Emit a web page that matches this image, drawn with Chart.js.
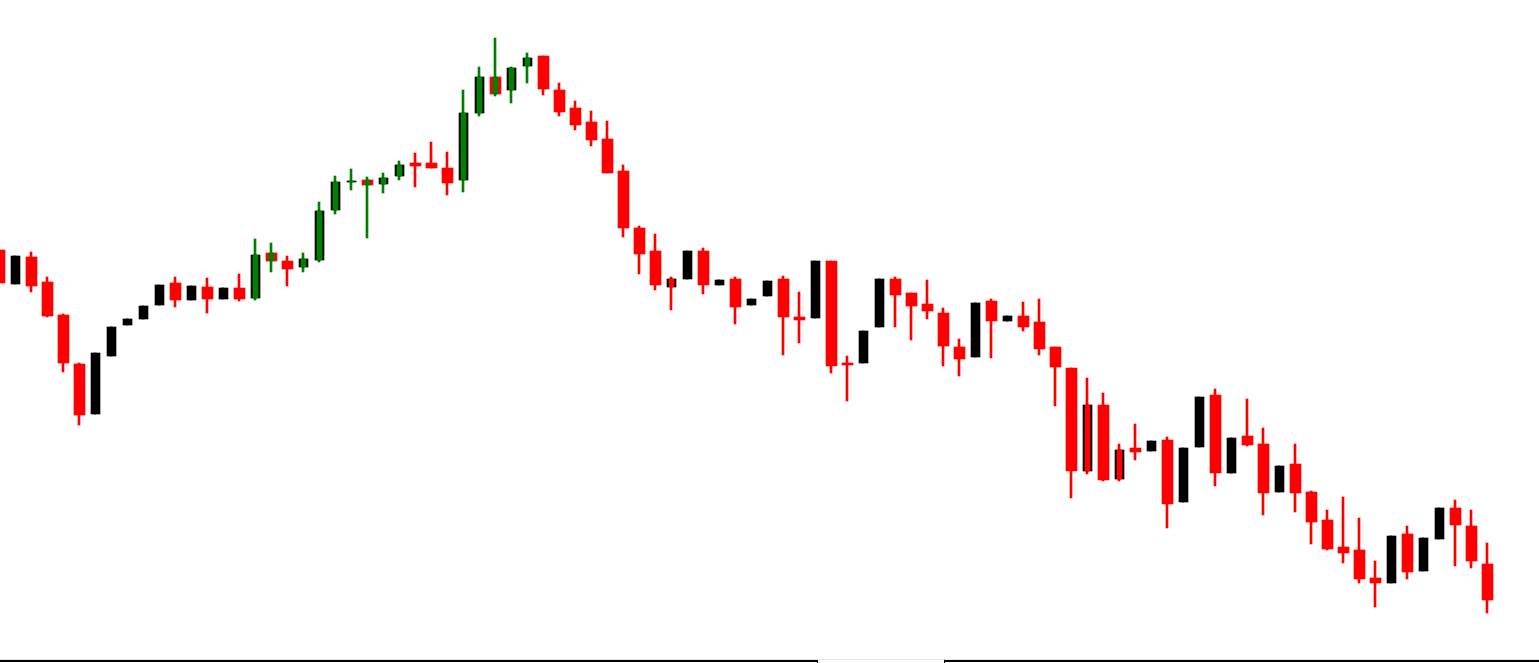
<!DOCTYPE html>
<html>
<head>
<meta charset="utf-8">
<title>Candles</title>
<script src="https://cdn.jsdelivr.net/npm/chart.js@4.4.1/dist/chart.umd.min.js"></script>
<style>
  html, body { margin: 0; padding: 0; background: #fff; overflow: hidden; }
  #wrap { position: relative; width: 1539px; height: 663px; }
  #priceChart { display: block; }
  .rule { position: absolute; left: 0; top: 659px; width: 1539px; height: 1px; background: #e4e4e4; }
  .panel { position: absolute; top: 660px; height: 10px; border-top: 2px solid #000; box-sizing: border-box; }
  .panel.left { left: 0; width: 818px; border-right: 1px solid #000; }
  .panel.right { left: 944px; width: 595px; border-left: 1px solid #000; }
</style>
</head>
<body>
<div id="wrap">
  <canvas id="priceChart" width="1539" height="663"></canvas>
  <div class="rule"></div>
  <div class="panel left"></div>
  <div class="panel right"></div>
</div>
<script>
'use strict';

// ── OHLC data (one entry per bar, oldest first) ──────────
const opens = [
  1.0750, 1.0716, 1.0743, 1.0718, 1.0685, 1.0636, 1.0586, 1.0644, 1.0675, 1.0681,
  1.0695, 1.0717, 1.0700, 1.0713, 1.0701, 1.0712, 1.0702, 1.0747, 1.0739, 1.0733,
  1.0740, 1.0790, 1.0818, 1.0820, 1.0816, 1.0824, 1.0837, 1.0837, 1.0832, 1.0820,
  1.0887, 1.0923, 1.0910, 1.0934, 1.0944, 1.0910, 1.0892, 1.0878, 1.0861, 1.0829,
  1.0772, 1.0749, 1.0713, 1.0721, 1.0749, 1.0715, 1.0721, 1.0695, 1.0704, 1.0721,
  1.0683, 1.0682, 1.0739, 1.0637, 1.0637, 1.0673, 1.0721, 1.0707, 1.0696, 1.0687,
  1.0653, 1.0643, 1.0699, 1.0679, 1.0684, 1.0678, 1.0653, 1.0632, 1.0529, 1.0595,
  1.0521, 1.0552, 1.0549, 1.0560, 1.0498, 1.0553, 1.0605, 1.0527, 1.0564, 1.0556,
  1.0508, 1.0536, 1.0508, 1.0480, 1.0453, 1.0450, 1.0422, 1.0417, 1.0466, 1.0429,
  1.0461, 1.0492, 1.0474, 1.0436
];
const highs = [
  1.0750, 1.0744, 1.0748, 1.0723, 1.0686, 1.0637, 1.0647, 1.0673, 1.0681, 1.0694,
  1.0715, 1.0723, 1.0714, 1.0722, 1.0712, 1.0726, 1.0761, 1.0757, 1.0744, 1.0747,
  1.0798, 1.0824, 1.0831, 1.0823, 1.0827, 1.0839, 1.0847, 1.0858, 1.0848, 1.0910,
  1.0933, 1.0962, 1.0933, 1.0947, 1.0944, 1.0917, 1.0899, 1.0889, 1.0879, 1.0835,
  1.0774, 1.0766, 1.0723, 1.0749, 1.0752, 1.0720, 1.0723, 1.0701, 1.0719, 1.0724,
  1.0708, 1.0739, 1.0739, 1.0644, 1.0669, 1.0721, 1.0723, 1.0707, 1.0720, 1.0692,
  1.0661, 1.0697, 1.0701, 1.0684, 1.0698, 1.0701, 1.0653, 1.0632, 1.0622, 1.0607,
  1.0556, 1.0576, 1.0559, 1.0563, 1.0552, 1.0603, 1.0611, 1.0562, 1.0601, 1.0572,
  1.0534, 1.0556, 1.0509, 1.0490, 1.0503, 1.0482, 1.0439, 1.0464, 1.0474, 1.0462,
  1.0492, 1.0500, 1.0490, 1.0457
];
const lows = [
  1.0717, 1.0716, 1.0708, 1.0683, 1.0628, 1.0575, 1.0586, 1.0644, 1.0675, 1.0681,
  1.0695, 1.0693, 1.0700, 1.0687, 1.0701, 1.0699, 1.0700, 1.0728, 1.0714, 1.0728,
  1.0738, 1.0786, 1.0810, 1.0762, 1.0807, 1.0820, 1.0813, 1.0832, 1.0805, 1.0808,
  1.0884, 1.0904, 1.0897, 1.0917, 1.0905, 1.0884, 1.0870, 1.0854, 1.0827, 1.0763,
  1.0726, 1.0710, 1.0690, 1.0721, 1.0706, 1.0715, 1.0676, 1.0695, 1.0704, 1.0645,
  1.0657, 1.0682, 1.0627, 1.0599, 1.0637, 1.0673, 1.0673, 1.0660, 1.0681, 1.0634,
  1.0624, 1.0643, 1.0642, 1.0679, 1.0669, 1.0645, 1.0594, 1.0502, 1.0526, 1.0519,
  1.0519, 1.0540, 1.0549, 1.0472, 1.0498, 1.0553, 1.0514, 1.0527, 1.0554, 1.0485,
  1.0508, 1.0488, 1.0456, 1.0450, 1.0437, 1.0417, 1.0393, 1.0417, 1.0421, 1.0429,
  1.0461, 1.0434, 1.0432, 1.0387
];
const closes = [
  1.0717, 1.0744, 1.0714, 1.0684, 1.0637, 1.0585, 1.0647, 1.0673, 1.0681, 1.0694,
  1.0715, 1.0700, 1.0714, 1.0701, 1.0712, 1.0701, 1.0745, 1.0739, 1.0731, 1.0741,
  1.0789, 1.0818, 1.0819, 1.0815, 1.0822, 1.0835, 1.0834, 1.0832, 1.0817, 1.0887,
  1.0923, 1.0906, 1.0932, 1.0942, 1.0911, 1.0888, 1.0875, 1.0860, 1.0827, 1.0772,
  1.0746, 1.0715, 1.0721, 1.0749, 1.0715, 1.0720, 1.0693, 1.0701, 1.0719, 1.0683,
  1.0680, 1.0739, 1.0634, 1.0635, 1.0669, 1.0721, 1.0705, 1.0694, 1.0689, 1.0654,
  1.0641, 1.0697, 1.0679, 1.0684, 1.0673, 1.0651, 1.0633, 1.0529, 1.0595, 1.0520,
  1.0550, 1.0548, 1.0559, 1.0496, 1.0552, 1.0603, 1.0527, 1.0562, 1.0555, 1.0507,
  1.0534, 1.0507, 1.0478, 1.0451, 1.0447, 1.0421, 1.0417, 1.0464, 1.0428, 1.0462,
  1.0492, 1.0475, 1.0439, 1.0400
];

// bars carrying an overlay signal candle
const bullSignalIdx = [16, 17, 19, 20, 21, 22, 23, 24, 25, 29, 30, 31, 32, 33];
const bearSignalIdx = [42, 68, 70];

// ── look ─────────────────────────────────────────────────
const UP_COL    = '#000000';
const DOWN_COL  = '#ff0000';
const BULL_COL  = '#008000';
const BEAR_COL  = '#ff0000';
const SLOT_PX   = 16;     // distance between bars
const FIRST_PX  = -0.5;   // centre of the first (cut-off) bar
const WIDTH_PX  = 1539;

const signalOf = i => bullSignalIdx.includes(i) ? BULL_COL : bearSignalIdx.includes(i) ? BEAR_COL : null;
const isUp = i => closes[i] >= opens[i];

const wickPts = [], wickCols = [];
const upBodies = [], downBodies = [];
const sigBodies = [], sigCols = [];
const wickShift = -0.5 / SLOT_PX;   // wicks sit half a pixel left of the body centre

opens.forEach((o, i) => {
    const c = closes[i];
    const sig = signalOf(i);
    wickPts.push({ x: i + wickShift, y: [lows[i], highs[i]] });
    wickCols.push(sig || (isUp(i) ? UP_COL : DOWN_COL));
    if (isUp(i)) upBodies.push({ x: i, y: [o, c] });
    else downBodies.push({ x: i, y: [o, c] });
    if (sig) {
        sigBodies.push({ x: i, y: [o, c] });
        sigCols.push(sig);
    }
});

const xMin = -FIRST_PX / SLOT_PX;
const xMax = xMin + WIDTH_PX / SLOT_PX;

const common = { grouped: false, borderWidth: 0, borderSkipped: false };

new Chart(document.getElementById('priceChart').getContext('2d'), {
    type: 'bar',
    data: {
        datasets: [
            { ...common, label: 'signal', data: sigBodies, backgroundColor: sigCols, barThickness: 5, order: 0 },
            { ...common, label: 'up', data: upBodies, backgroundColor: UP_COL, barThickness: 9, order: 1 },
            { ...common, label: 'down', data: downBodies, backgroundColor: DOWN_COL, barThickness: 11, order: 2 },
            { ...common, label: 'wick', data: wickPts, backgroundColor: wickCols, barThickness: 2, order: 3 },
        ]
    },
    options: {
        responsive: false,
        animation: false,
        layout: { padding: 0 },
        plugins: { legend: { display: false }, tooltip: { enabled: false } },
        scales: {
            x: { type: 'linear', display: false, min: xMin, max: xMax, offset: false },
            y: { type: 'linear', display: false, min: 1.0337, max: 1.1000 }
        }
    }
});
</script>
</body>
</html>
